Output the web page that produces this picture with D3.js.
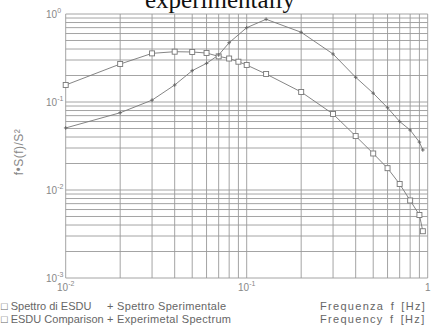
<!DOCTYPE html>
<html>
<meta charset="utf-8">
<script src="https://d3js.org/d3.v7.min.js"></script>
<head>
<style>
body { margin: 0; background: #fff; }
svg { display: block; }
.tick-label { font-family: "Liberation Sans", Arial, sans-serif; font-size: 10px; fill: #888; }
.legend { font-family: "Liberation Sans", Arial, sans-serif; font-size: 11px; fill: #666; letter-spacing: 0.3px; }
.legend.first { letter-spacing: 0px; }
.legend.freq { letter-spacing: 1.3px; word-spacing: 2px; }
</style>
</head>
<body>
<div id="chart"></div>
<script>

// frequencies [Hz] and normalised spectra f*S(f)/S^2
var esdu_f = [0.01, 0.02, 0.03, 0.04, 0.05, 0.06, 0.07, 0.08, 0.09, 0.1,
              0.128, 0.2, 0.3, 0.4, 0.5, 0.6, 0.7, 0.8, 0.9, 0.94];
var esdu_s = [0.156, 0.27, 0.357, 0.373, 0.37, 0.36, 0.33, 0.312, 0.287, 0.263,
              0.208, 0.13, 0.073, 0.041, 0.026, 0.0177, 0.0117, 0.0076, 0.0052, 0.0034];

var exp_f = [0.01, 0.02, 0.03, 0.04, 0.05, 0.06, 0.07, 0.08, 0.1, 0.128,
             0.2, 0.3, 0.4, 0.5, 0.6, 0.7, 0.8, 0.9, 0.94];
var exp_s = [0.0507, 0.0755, 0.105, 0.156, 0.227, 0.275, 0.342, 0.472, 0.699, 0.871,
             0.62, 0.351, 0.191, 0.126, 0.086, 0.060, 0.048, 0.035, 0.0285];

var x_ticks = [0.01, 0.1, 1];
var y_ticks = [0.001, 0.01, 0.1, 1];

var width = 433,
    height = 331;

var svg = d3.select("#chart")
  .append("svg")
    .attr("width", width)
    .attr("height", height);

var x = d3.scaleLog().domain([0.01, 1]).range([65.7, 427.7]);
var y = d3.scaleLog().domain([0.001, 1]).range([278, 14]);

// title, cut off by the top of the picture
svg.append("text")
  .attr("x", 220)
  .attr("y", 8)
  .attr("text-anchor", "middle")
  .style("font-family", "'Liberation Serif', 'Times New Roman', serif")
  .style("font-size", "25px")
  .style("fill", "#111")
  .text("experimentally");

// log grid
var grid = svg.append("g")
  .attr("stroke", "#9a9a9a")
  .attr("stroke-width", 0.9)
  .attr("fill", "none");

var xminor = [];
[0.01, 0.1].forEach(function(d) { for (var k = 1; k < 10; k++) xminor.push(d * k); });
xminor.push(1);
var yminor = [];
[0.001, 0.01, 0.1].forEach(function(d) { for (var k = 1; k < 10; k++) yminor.push(d * k); });
yminor.push(1);

grid.selectAll("line.v")
  .data(xminor)
  .enter().append("line")
    .attr("x1", function(d) { return x(d); })
    .attr("x2", function(d) { return x(d); })
    .attr("y1", y(1))
    .attr("y2", y(0.001));

grid.selectAll("line.h")
  .data(yminor)
  .enter().append("line")
    .attr("x1", x(0.01))
    .attr("x2", x(1))
    .attr("y1", function(d) { return y(d); })
    .attr("y2", function(d) { return y(d); });

// tick labels
var xl = svg.selectAll("text.xl")
  .data(x_ticks)
  .enter().append("text")
    .attr("class", "tick-label")
    .attr("x", function(d) { return x(d); })
    .attr("y", 291)
    .attr("text-anchor", "middle");
xl.append("tspan").text(function(d) { return d == 1 ? "1" : "10"; });
xl.append("tspan")
  .attr("dy", -5)
  .style("font-size", "7px")
  .text(function(d) { return d == 1 ? "" : "-" + Math.round(-Math.log10(d)); });

var yl = svg.selectAll("text.yl")
  .data(y_ticks)
  .enter().append("text")
    .attr("class", "tick-label")
    .attr("x", 46)
    .attr("y", function(d) { return y(d) + 4; });
yl.append("tspan").text("10");
yl.append("tspan")
  .attr("dy", -5)
  .style("font-size", "7px")
  .text(function(d) { return d == 1 ? "0" : "-" + Math.round(-Math.log10(d)); });

// y axis title
svg.append("text")
  .attr("class", "tick-label")
  .attr("transform", "translate(23,152) rotate(-90)")
  .attr("text-anchor", "middle")
  .style("font-size", "12px")
  .style("letter-spacing", "0.5px")
  .text("f\u2022S(f)/S\u00b2");

// series
var line = d3.line()
  .x(function(d) { return x(d[0]); })
  .y(function(d) { return y(d[1]); });

var esdu = d3.zip(esdu_f, esdu_s);
var expd = d3.zip(exp_f, exp_s);

svg.append("path")
  .datum(esdu)
  .attr("d", line)
  .attr("fill", "none")
  .attr("stroke", "#777")
  .attr("stroke-width", 0.9);

svg.append("path")
  .datum(expd)
  .attr("d", line)
  .attr("fill", "none")
  .attr("stroke", "#777")
  .attr("stroke-width", 0.9);

svg.selectAll("rect.sq")
  .data(esdu)
  .enter().append("rect")
    .attr("x", function(d) { return x(d[0]) - 2.5; })
    .attr("y", function(d) { return y(d[1]) - 2.5; })
    .attr("width", 5)
    .attr("height", 5)
    .attr("fill", "#fff")
    .attr("stroke", "#777")
    .attr("stroke-width", 0.9);

svg.selectAll("path.plus")
  .data(expd)
  .enter().append("path")
    .attr("d", function(d) {
      var cx = x(d[0]), cy = y(d[1]);
      return "M" + (cx - 1.8) + "," + cy + "H" + (cx + 1.8) + "M" + cx + "," + (cy - 1.8) + "V" + (cy + 1.8);
    })
    .attr("stroke", "#666")
    .attr("stroke-width", 1);

// legend / captions
var captions = [
  ["\u25a1 Spettro di ESDU", "+ Spettro Sperimentale", "Frequenza f [Hz]"],
  ["\u25a1 ESDU Comparison", "+ Experimetal Spectrum", "Frequency f [Hz]"]
];
var cap_x = [1, 107, 320];
var cap_class = ["legend first", "legend", "legend freq"];

captions.forEach(function(row, i) {
  row.forEach(function(t, j) {
    svg.append("text")
      .attr("class", cap_class[j])
      .attr("x", cap_x[j])
      .attr("y", 310 + i * 13)
      .text(t);
  });
});

</script>
</body>
</html>
